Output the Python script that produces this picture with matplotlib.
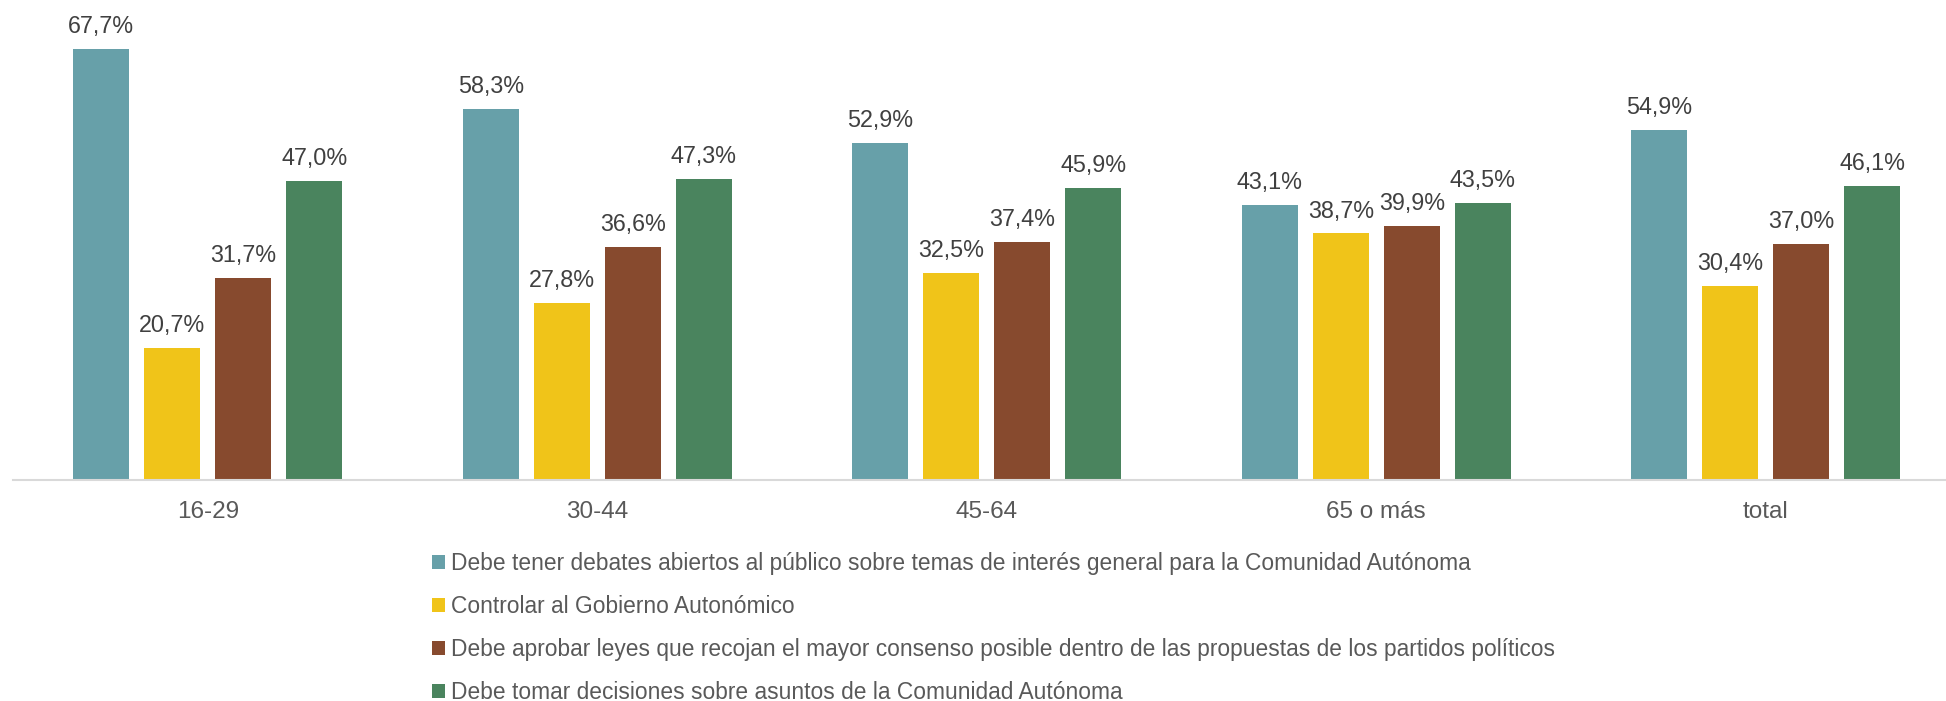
import matplotlib
matplotlib.use("Agg")
import matplotlib.pyplot as plt
import numpy as np

categories = ["16-29", "30-44", "45-64", "65 o más", "total"]
series_names = [
    "Debe tener debates abiertos al público sobre temas de interés general para la Comunidad Autónoma",
    "Controlar al Gobierno Autonómico",
    "Debe aprobar leyes que recojan el mayor consenso posible dentro de las propuestas de los partidos políticos",
    "Debe tomar decisiones sobre asuntos de la Comunidad Autónoma",
]
debates = [67.7, 58.3, 52.9, 43.1, 54.9]
controlar = [20.7, 27.8, 32.5, 38.7, 30.4]
leyes = [31.7, 36.6, 37.4, 39.9, 37.0]
decisiones = [47.0, 47.3, 45.9, 43.5, 46.1]
series_values = [debates, controlar, leyes, decisiones]
colors = ["#67A0A9", "#F0C419", "#874A2E", "#4A845E"]

plt.rcParams['font.family'] = ['Liberation Sans', 'DejaVu Sans']
label_color = "#404040"
text_color = "#595959"

W, H = 1946, 701
fig = plt.figure(figsize=(W / 100, H / 100), dpi=100)
ax = fig.add_axes([13 / W, 221 / H, 1947.5 / W, 477.75 / H])

x = np.arange(len(categories))
bw = 56 / 389.5
pitch = 71 / 389.5
offsets = (np.arange(4) - 1.5) * pitch

for i, (vals, c, name) in enumerate(zip(series_values, colors, series_names)):
    bars = ax.bar(x + offsets[i], vals, width=bw, color=c, label=name, zorder=2)
    for b, v in zip(bars, vals):
        ax.annotate(f"{v:.1f}%".replace(".", ","),
                    (b.get_x() + b.get_width() / 2, v),
                    xytext=(0, 11.5), textcoords="offset points",
                    ha="center", va="baseline", fontsize=16.8, color=label_color)

ax.set_xlim(-0.5, len(categories) - 0.5)
ax.set_ylim(0, 75)
ax.set_xticks(x)
ax.set_xticklabels(categories, fontsize=17.5, color=text_color)
ax.tick_params(axis="x", length=0, pad=15)
ax.set_yticks([])
for s in ["top", "right", "left"]:
    ax.spines[s].set_visible(False)
ax.spines["bottom"].set_color("#D9D9D9")
ax.spines["bottom"].set_linewidth(1.5)
ax.spines["bottom"].set_zorder(3)

handles, labels = ax.get_legend_handles_labels()
leg = fig.legend(handles, labels, loc="upper left",
                 bbox_to_anchor=(432 / W, 1 - 552 / H),
                 frameon=False, fontsize=16.4, ncol=1,
                 handlelength=0.58, handleheight=0.58, handletextpad=0.25,
                 labelspacing=0.88, borderpad=0, borderaxespad=0)
for t in leg.get_texts():
    t.set_color(text_color)

fig.savefig("out.png", dpi=100)
